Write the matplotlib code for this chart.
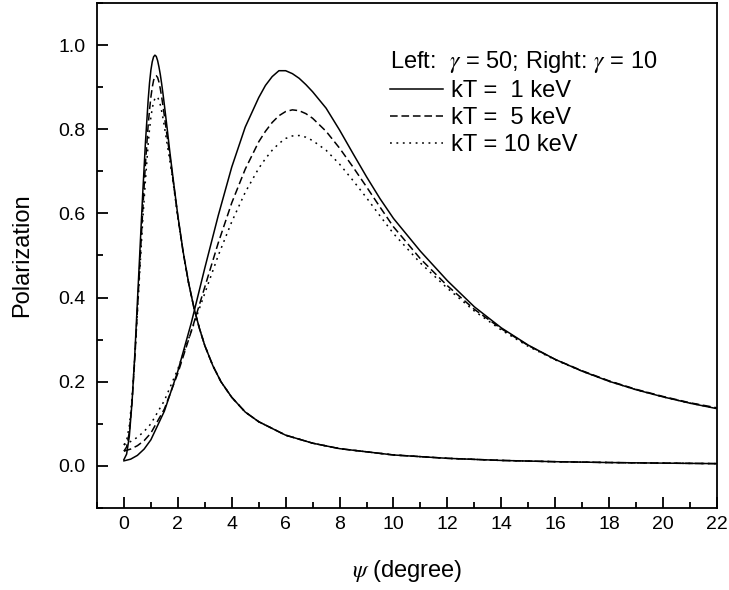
import numpy as np
import matplotlib
matplotlib.use("Agg")
import matplotlib.pyplot as plt
from matplotlib.ticker import MultipleLocator, FormatStrFormatter

plt.rcParams['font.family'] = ['Liberation Sans', 'DejaVu Sans']
plt.rcParams['mathtext.fontset'] = 'stix'

# ---- left group: gamma = 50 ----
x_left = [0.0, 0.1, 0.2, 0.3, 0.4, 0.5, 0.6, 0.7, 0.8, 0.9,
          0.95, 1.0, 1.05, 1.1, 1.15, 1.2, 1.25, 1.3, 1.35, 1.4, 1.45, 1.5,
          1.6, 1.7, 1.85, 2.0,
          2.2, 2.4, 2.6, 2.8, 3.0, 3.3, 3.6, 4.0, 4.5, 5.0, 6.0, 7.0, 8.0,
          10.0, 12.0, 14.0, 16.0, 18.0, 20.0, 22.0]
left_1kev = [0.015, 0.028, 0.07, 0.15, 0.26, 0.39, 0.52, 0.65, 0.77, 0.87,
             0.91, 0.94, 0.96, 0.972, 0.976, 0.973, 0.963, 0.948, 0.93, 0.908, 0.884, 0.858,
             0.804, 0.748, 0.67, 0.595,
             0.508, 0.435, 0.375, 0.327, 0.286, 0.238, 0.200, 0.163, 0.128, 0.105, 0.073,
             0.054, 0.041, 0.026, 0.018, 0.013, 0.010, 0.008, 0.0066, 0.0054]
left_5kev = [0.035, 0.045, 0.08, 0.15, 0.25, 0.37, 0.49, 0.61, 0.72, 0.81,
             0.846, 0.876, 0.899, 0.916, 0.925, 0.927, 0.923, 0.912, 0.896, 0.877, 0.855, 0.832,
             0.785, 0.738, 0.666, 0.593,
             0.506, 0.435, 0.375, 0.327, 0.286, 0.238, 0.200, 0.163, 0.128, 0.105, 0.073,
             0.054, 0.041, 0.026, 0.018, 0.013, 0.010, 0.008, 0.0066, 0.0054]
left_10kev = [0.05, 0.06, 0.095, 0.16, 0.255, 0.365, 0.475, 0.585, 0.68, 0.765,
              0.80, 0.828, 0.849, 0.864, 0.873, 0.877, 0.876, 0.869, 0.858, 0.843, 0.826, 0.807,
              0.766, 0.727, 0.662, 0.59,
              0.506, 0.434, 0.375, 0.327, 0.286, 0.238, 0.200, 0.163, 0.128, 0.105, 0.073,
              0.054, 0.041, 0.026, 0.018, 0.013, 0.010, 0.008, 0.0066, 0.0054]

# ---- right group: gamma = 10 ----
x_right = [0.0, 0.25, 0.5, 0.75, 1.0,
           1.5, 2.0, 2.5, 3.0, 3.5, 4.0, 4.5, 5.0,
           5.25, 5.5, 5.75, 6.0, 6.25, 6.5, 6.75, 7.0,
           7.5, 8.0, 8.5, 9.0, 9.5, 10.0,
           11.0, 12.0, 13.0, 14.0, 15.0, 16.0, 17.0, 18.0, 19.0, 20.0, 21.0, 22.0]
right_1kev = [0.012, 0.016, 0.025, 0.04, 0.062,
              0.13, 0.225, 0.34, 0.47, 0.595, 0.71, 0.805, 0.875,
              0.904, 0.925, 0.939, 0.939, 0.932, 0.921, 0.906, 0.889,
              0.85, 0.798, 0.742, 0.687, 0.635, 0.588,
              0.51, 0.44, 0.378, 0.328, 0.287, 0.253, 0.225, 0.201, 0.181, 0.164, 0.149, 0.136]
right_5kev = [0.035, 0.04, 0.048, 0.06, 0.078,
              0.135, 0.22, 0.32, 0.425, 0.53, 0.625, 0.705, 0.77,
              0.795, 0.816, 0.832, 0.842, 0.846, 0.844, 0.837, 0.826,
              0.795, 0.755, 0.71, 0.663, 0.615, 0.568,
              0.492, 0.428, 0.372, 0.326, 0.286, 0.253, 0.226, 0.202, 0.182, 0.165, 0.15, 0.138]
right_10kev = [0.05, 0.058, 0.068, 0.082, 0.10,
               0.155, 0.23, 0.32, 0.41, 0.50, 0.58, 0.65, 0.707,
               0.73, 0.75, 0.766, 0.778, 0.784, 0.785, 0.781, 0.773,
               0.75, 0.717, 0.678, 0.637, 0.594, 0.552,
               0.482, 0.422, 0.368, 0.323, 0.284, 0.252, 0.225, 0.201, 0.181, 0.164, 0.149, 0.137]

labels = ["kT =  1 keV", "kT =  5 keV", "kT = 10 keV"]
styles = [dict(ls='-'), dict(ls=(0, (5, 2.5))), dict(ls=(0, (1.2, 3.0)))]

fig = plt.figure(figsize=(7.29, 5.9), dpi=100)
ax = fig.add_axes([0.133, 0.139, 0.8505, 0.856])

left_series = [left_1kev, left_5kev, left_10kev]
right_series = [right_1kev, right_5kev, right_10kev]
for lab, st, yl, yr in zip(labels, styles, left_series, right_series):
    ax.plot(x_left, yl, color='black', lw=1.1, **st)
    ax.plot(x_right, yr, color='black', lw=1.1, label=lab, **st)

ax.set_xlim(-1, 22)
ax.set_ylim(-0.1, 1.1)
ax.xaxis.set_major_locator(MultipleLocator(2))
ax.xaxis.set_minor_locator(MultipleLocator(1))
ax.yaxis.set_major_locator(MultipleLocator(0.2))
ax.yaxis.set_minor_locator(MultipleLocator(0.1))
ax.yaxis.set_major_formatter(FormatStrFormatter('%.1f'))
ax.tick_params(which='both', direction='in', top=False, right=False, labelsize=14)
ax.tick_params(which='major', length=8, width=1.3)
ax.tick_params(which='minor', length=4.5, width=1.3)
ax.tick_params(axis='y', pad=8)
ax.tick_params(axis='x', pad=6)
for sp in ax.spines.values():
    sp.set_linewidth(1.3)

ax.set_xlabel(r"$\psi$ (degree)", fontsize=17, labelpad=18)
ax.set_ylabel("Polarization", fontsize=17, labelpad=18)

leg = ax.legend(loc='upper left', bbox_to_anchor=(0.458, 0.928), frameon=False,
                fontsize=17, handlelength=2.25, handletextpad=0.3, labelspacing=0.22,
                title=r"Left:  $\gamma$ = 50; Right: $\gamma$ = 10",
                title_fontsize=17, alignment='left', borderaxespad=0)

fig.savefig("out.png", dpi=100)
